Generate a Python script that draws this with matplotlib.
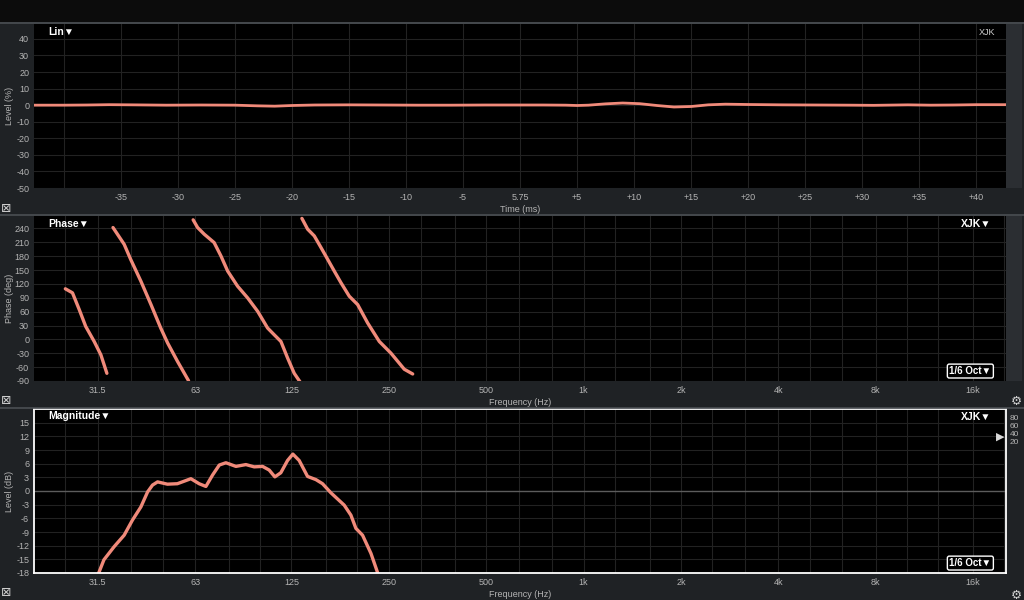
import matplotlib
matplotlib.use("Agg")
import matplotlib.pyplot as plt
import numpy as np
from matplotlib.patches import Rectangle

plt.rcParams['font.family'] = ['Liberation Sans', 'DejaVu Sans']
plt.rcParams['axes.unicode_minus'] = False

# ---------------- data ----------------
time_ms = [-42.6, -40, -38, -36, -34, -31, -28, -25, -23, -21.5, -20, -18, -15, -12, -9, -6, -3,
           0, 2, 4, 5, 6, 7.5, 9, 10.5, 12, 13.5, 15, 16.5, 18, 20, 23, 26, 29, 31, 34, 36, 38, 40, 42.6]
level_pct = [0.0, 0.0, 0.1, 0.3, 0.2, 0.0, 0.1, 0.0, -0.4, -0.6, -0.2, 0.1, 0.2, 0.1, 0.0, 0.0, 0.1,
             0.1, 0.1, 0.0, -0.2, 0.0, 0.8, 1.3, 0.9, -0.2, -1.1, -0.8, 0.2, 0.6, 0.4, 0.2, 0.1, 0.0,
             -0.1, 0.2, 0.0, 0.1, 0.3, 0.3]
time_ticks = [-35, -30, -25, -20, -15, -10, -5, 0, 5, 10, 15, 20, 25, 30, 35, 40]
time_labels = ['-35', '-30', '-25', '-20', '-15', '-10', '-5', '5.75', '+5', '+10', '+15', '+20',
               '+25', '+30', '+35', '+40']
time_grid = [-40] + time_ticks

phase_freq = [25.0, 26.3, 27.6, 28.9, 30.7, 32.2, 33.6, np.nan,
              35.1, 38.0, 39.8, 42.8, 46.0, 49.3, 51.8, 55.6, 60.1, np.nan,
              62.1, 64.1, 67.2, 72.1, 75.7, 79.4, 85.2, 91.5, 98.3, 105.5, 110.6, 116.0, 121.7,
              127.5, 132.8, np.nan,
              134.7, 140.3, 147.1, 154.3, 161.8, 169.6, 177.9, 188.7, 200.3, 215.1, 233.7, 253.9,
              279.2, 296.4]
phase_deg = [109.5, 100.8, 64.5, 28.1, -4.5, -33.5, -73.3, np.nan,
             242.0, 205.8, 173.2, 126.0, 75.3, 24.6, -8.0, -48.0, -89.4, np.nan,
             258.7, 242.0, 227.6, 209.5, 180.4, 147.8, 115.1, 89.9, 60.7, 24.6, 10.0, -4.5, -40.6,
             -73.3, -91.5, np.nan,
             261.8, 238.5, 223.9, 198.7, 173.2, 147.8, 122.5, 93.4, 75.3, 35.5, -4.5, -29.8,
             -64.6, -74.8]

mag_freq = [31.5, 32.9, 35.4, 38.0, 40.3, 42.8, 44.9, 46.5, 48.2, 51.7, 55.5, 58.5, 61.1, 64.8,
            68.0, 71.3, 74.8, 78.4, 84.2, 90.4, 95.9, 101.8, 106.7, 111.1, 115.9, 121.6, 126.3,
            132.1, 140.2, 148.8, 156.0, 165.6, 182.0, 190.9, 197.8, 207.4, 220.2, 230.8, 234.0]
mag_db = [-18.5, -15.1, -12.2, -9.7, -6.4, -3.5, -0.2, 1.3, 2.0, 1.5, 1.6, 2.2, 2.7, 1.6,
          1.0, 3.5, 5.7, 6.2, 5.4, 5.8, 5.3, 5.4, 4.6, 3.1, 4.0, 6.7, 8.1,
          6.7, 3.2, 2.5, 1.6, -0.4, -3.1, -5.3, -8.2, -9.7, -13.7, -17.9, -19.0]

third_oct = [25, 31.5, 40, 50, 63, 80, 100, 125, 160, 200, 250, 315, 400, 500, 630, 800,
             1000, 1250, 1600, 2000, 2500, 3150, 4000, 5000, 6300, 8000, 10000, 12500, 16000, 20000]
oct_labels = {31.5: '31.5', 63: '63', 125: '125', 250: '250', 500: '500', 1000: '1k',
              2000: '2k', 4000: '4k', 8000: '8k', 16000: '16k'}
phase_ticks = list(range(-90, 241, 30))
mag_ticks = list(range(-18, 16, 3))

# ---------------- style ----------------
BG = '#1f2225'
GRID = '#222222'
TXT = '#b4b4b4'
LINE = '#f08a7a'
W, H = 1024, 600

fig = plt.figure(figsize=(10.24, 6.0), dpi=100, facecolor=BG)

def fx(px):
    return px / W

def fy(py):
    return 1 - py / H

# top black strip and dividers
fig.patches.append(Rectangle((0, fy(22)), 1, 22 / H, transform=fig.transFigure,
                             facecolor='#0c0c0c', edgecolor='none', zorder=0))
for yy in (22.5, 215, 407.5):
    fig.add_artist(plt.Line2D([0, 1], [fy(yy), fy(yy)], color='#4b4f53', lw=1.2,
                              transform=fig.transFigure))
# right light strip
for (y0, y1) in ((24, 188), (216, 381)):
    fig.patches.append(Rectangle((fx(1006), fy(y1)), 16 / W, (y1 - y0) / H,
                                 transform=fig.transFigure, facecolor='#2b2e32',
                                 edgecolor='none', zorder=0))

def make_ax(y0, y1):
    ax = fig.add_axes([fx(34), fy(y1), fx(1006) - fx(34), (y1 - y0) / H])
    ax.set_facecolor('black')
    for s in ax.spines.values():
        s.set_visible(False)
    ax.tick_params(axis='both', length=0, labelsize=6.5, labelcolor=TXT, pad=3.5)
    return ax

def ylab(ax, text):
    ax.set_ylabel(text, fontsize=6.5, color=TXT)
    ax.yaxis.set_label_coords(-0.0205, 0.5)

LW = dict(solid_capstyle='round', solid_joinstyle='round')

# ---------- top: impulse ----------
ax1 = make_ax(24, 188)
ax1.plot(time_ms, level_pct, color=LINE, lw=2.0, **LW)
ax1.set_xlim(-42.6, 42.6)
ax1.set_ylim(-50, 49)
ax1.set_xticks(time_grid)
ax1.set_xticklabels([''] + time_labels)
ax1.set_yticks(list(range(-50, 41, 10)))
ax1.grid(True, color=GRID, lw=0.8)
ax1.set_axisbelow(True)
ax1.set_xlabel('Time (ms)', fontsize=6.5, color=TXT, labelpad=2)
ylab(ax1, 'Level (%)')
ax1.text(0.0144, 0.985, 'Lin▼', transform=ax1.transAxes, color='white', fontsize=7.5,
         fontweight='bold', va='top', ha='left')
ax1.text(0.9885, 0.975, 'XJK', transform=ax1.transAxes, color='#d0d0d0', fontsize=6.5,
         va='top', ha='right')

def freq_axis(ax):
    ax.set_xscale('log')
    ax.set_xlim(20, 20240)
    ax.xaxis.set_minor_locator(matplotlib.ticker.NullLocator())
    ax.set_xticks(third_oct)
    ax.set_xticklabels([oct_labels.get(f, '') for f in third_oct])
    ax.grid(True, color=GRID, lw=0.8)
    ax.set_axisbelow(True)
    ax.set_xlabel('Frequency (Hz)', fontsize=6.5, color=TXT, labelpad=2)

# ---------- middle: phase ----------
ax2 = make_ax(216, 381)
ax2.plot(phase_freq, phase_deg, color=LINE, lw=2.4, **LW)
freq_axis(ax2)
ax2.set_ylim(-90, 267)
ax2.set_yticks(phase_ticks)
ylab(ax2, 'Phase (deg)')
ax2.text(0.0144, 0.985, 'Phase▼', transform=ax2.transAxes, color='white', fontsize=7.5,
         fontweight='bold', va='top', ha='left')
ax2.text(0.985, 0.985, 'XJK▼', transform=ax2.transAxes, color='white', fontsize=7.5,
         fontweight='bold', va='top', ha='right')
ax2.text(0.985, 0.03, '1/6 Oct▼', transform=ax2.transAxes, color='white', fontsize=7,
         fontweight='bold', va='bottom', ha='right',
         bbox=dict(boxstyle='round,pad=0.2', fc='black', ec='white', lw=1))

# ---------- bottom: magnitude ----------
ax3 = make_ax(409, 573)
ax3.plot(mag_freq, mag_db, color=LINE, lw=2.4, **LW)
freq_axis(ax3)
ax3.set_ylim(-18, 18)
ax3.set_yticks(mag_ticks)
ax3.axhline(0, color='#5c5c5c', lw=1.0, zorder=1)
for s in ax3.spines.values():
    s.set_visible(True)
    s.set_color('white')
    s.set_linewidth(1.3)
ylab(ax3, 'Level (dB)')
ax3.text(0.0144, 0.985, 'Magnitude▼', transform=ax3.transAxes, color='white', fontsize=7.5,
         fontweight='bold', va='top', ha='left')
ax3.text(0.985, 0.985, 'XJK▼', transform=ax3.transAxes, color='white', fontsize=7.5,
         fontweight='bold', va='top', ha='right')
ax3.text(0.985, 0.03, '1/6 Oct▼', transform=ax3.transAxes, color='white', fontsize=7,
         fontweight='bold', va='bottom', ha='right',
         bbox=dict(boxstyle='round,pad=0.2', fc='black', ec='white', lw=1))

# right-hand small scale
for i, lab in enumerate(['80', '60', '40', '20']):
    fig.text(fx(1010), fy(418 + i * 8.3), lab, color=TXT, fontsize=6, va='center', ha='left')
fig.text(fx(996), fy(437), '▶', color='#d8d8d8', fontsize=8, va='center', ha='left',
         family='DejaVu Sans')

# icons
for yy in (208, 401, 593):
    fig.text(fx(6), fy(yy), '⊠', color='#d0d0d0', fontsize=9, va='center', ha='center',
             family='DejaVu Sans')
for yy in (401, 595):
    fig.text(fx(1016), fy(yy), '⚙', color='#d0d0d0', fontsize=9, va='center', ha='center',
             family='DejaVu Sans')

fig.savefig('out.png', dpi=100, facecolor=BG)
